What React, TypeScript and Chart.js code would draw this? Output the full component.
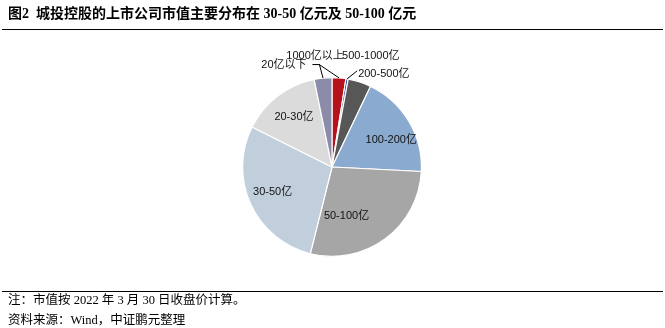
import React, { useEffect, useRef } from "react";
import { Chart, registerables } from "chart.js";

Chart.register(...registerables);

const categories = ["1000亿以上", "500-1000亿", "200-500亿", "100-200亿", "50-100亿", "30-50亿", "20-30亿", "20亿以下"];
const shares = [2.5, 0.4, 4.2, 18.7, 28.1, 28.5, 14.4, 3.2];
const colors = ["#B5121B", "#1F3A8A", "#575757", "#8AABCF", "#A6A6A6", "#C1CFDD", "#DBDBDB", "#8B8BAA"];

const titleText = "图2  城投控股的上市公司市值主要分布在 30-50 亿元及 50-100 亿元";
const noteLines = ["注：市值按 2022 年 3 月 30 日收盘价计算。", "资料来源：Wind，中证鹏元整理"];

type Placement =
  | { inside: true; r: number; da: number }
  | { inside: false; line: number[][]; tx: number; ty: number; align: CanvasTextAlign };

const placements: Placement[] = [
  { inside: false, line: [[-20, -13.5]], tx: -24, ty: -22, align: "center" },
  { inside: false, line: [[10, -8]], tx: -5, ty: -23, align: "left" },
  { inside: false, line: [], tx: -1.5, ty: -8.5, align: "left" },
  { inside: true, r: 0.73, da: 6 },
  { inside: true, r: 0.57, da: 20 },
  { inside: true, r: 0.72, da: 2 },
  { inside: true, r: 0.7, da: 0 },
  { inside: false, line: [[-3.6, -13.5], [-10.6, -13.5]], tx: -16.5, ty: -13.5, align: "right" },
];

const labelPlugin = {
  id: "sliceLabels",
  afterDatasetsDraw(chart: any) {
    const ctx = chart.ctx as CanvasRenderingContext2D;
    const meta = chart.getDatasetMeta(0);
    ctx.save();
    ctx.font = "11px 'Liberation Sans', 'Noto Sans CJK SC'";
    ctx.fillStyle = "#111";
    ctx.textBaseline = "middle";
    meta.data.forEach((el: any, i: number) => {
      const p = el.getProps(["x", "y", "startAngle", "endAngle", "outerRadius"], true);
      const mid = (p.startAngle + p.endAngle) / 2;
      const pl = placements[i];
      if (pl.inside) {
        const a = mid + (pl.da * Math.PI) / 180;
        const r = p.outerRadius * pl.r;
        ctx.textAlign = "center";
        ctx.fillText(categories[i], p.x + r * Math.cos(a), p.y + r * Math.sin(a));
      } else {
        const ox = p.x + p.outerRadius * Math.cos(mid);
        const oy = p.y + p.outerRadius * Math.sin(mid);
        if (pl.line.length) {
          ctx.beginPath();
          ctx.moveTo(ox, oy);
          pl.line.forEach(([dx, dy]) => ctx.lineTo(ox + dx, oy + dy));
          ctx.strokeStyle = "#000";
          ctx.lineWidth = 1;
          ctx.stroke();
        }
        ctx.textAlign = pl.align;
        ctx.fillText(categories[i], ox + pl.tx, oy + pl.ty);
      }
    });
    ctx.restore();
  },
};

function PieChart() {
  const ref = useRef<HTMLCanvasElement | null>(null);
  useEffect(() => {
    if (!ref.current) return;
    const chart = new Chart(ref.current, {
      type: "pie",
      data: {
        labels: categories,
        datasets: [
          {
            data: shares,
            backgroundColor: colors,
            borderColor: "#FFFFFF",
            borderWidth: 1.2,
          },
        ],
      },
      options: {
        responsive: false,
        animation: false,
        events: [],
        layout: { padding: { top: 77, bottom: 71, left: 242, right: 243 } },
        plugins: { legend: { display: false }, tooltip: { enabled: false } },
      },
      plugins: [labelPlugin],
    });
    return () => chart.destroy();
  }, []);
  return <canvas ref={ref} width={665} height={328} style={{ position: "absolute", left: 0, top: 0 }} />;
}

export default function App() {
  return (
    <div style={{ position: "absolute", left: 0, top: 0, width: 665, height: 328, background: "#fff", overflow: "hidden" }}>
      <PieChart />
      <div
        style={{
          position: "absolute",
          left: 8,
          top: 5,
          fontFamily: "'Liberation Serif', 'Noto Sans CJK SC'",
          fontWeight: "bold",
          fontSize: 14,
          lineHeight: "18px",
          whiteSpace: "pre",
          color: "#000",
        }}
      >
        {titleText}
      </div>
      <div style={{ position: "absolute", left: 2, top: 29, width: 661, height: 1, background: "#000" }} />
      <div style={{ position: "absolute", left: 2, top: 291, width: 661, height: 1, background: "#000" }} />
      <div
        style={{
          position: "absolute",
          left: 8,
          top: 290,
          fontFamily: "'Liberation Serif', 'Noto Sans CJK SC'",
          fontSize: 12.5,
          lineHeight: "20px",
          whiteSpace: "pre",
          color: "#000",
        }}
      >
        {noteLines.map((t, i) => (
          <div key={i}>{t}</div>
        ))}
      </div>
    </div>
  );
}
